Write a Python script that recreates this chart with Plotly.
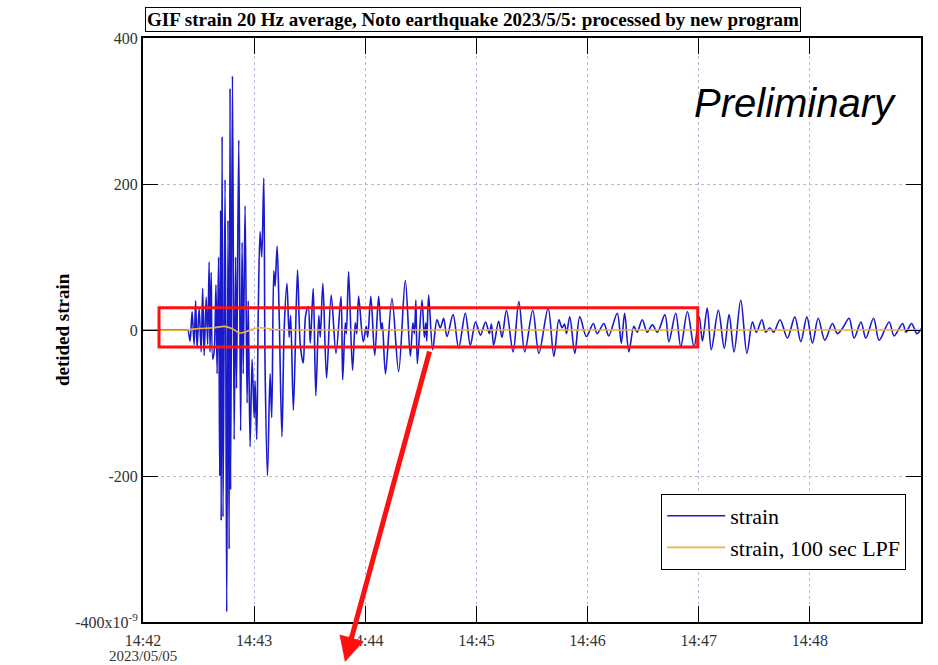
import pandas as pd
import plotly.graph_objects as go

# ---------------- data ----------------
# seconds after 2023-05-05 14:42:00, strain in 1e-9 (turning points of the trace)
t_sec = [0, 24.0, 24.3, 25.4, 26.5, 27.6, 28.4, 29.2, 30.3, 31.4, 32.2, 33.0, 34.1, 34.9,
         35.7, 36.2, 36.8, 37.6, 38.4, 39.4, 40.0, 40.8, 41.4, 41.9, 42.2, 42.7, 43.2,
         44.3, 45.2, 45.9, 46.5, 47.0, 47.3, 48.3, 49.2, 50.0, 50.5, 51.7, 52.7, 53.5,
         54.1, 55.1, 56.2, 56.8, 57.8, 58.9, 60.0, 60.5, 61.4, 62.2, 63.2, 64.1, 65.2,
         65.9, 67.2, 68.6, 69.5, 70.6, 71.3, 72.4, 73.5, 75.0, 76.2, 77.7, 78.9, 79.7,
         81.2, 83.4, 84.9, 86.5, 87.8, 89.2, 90.3, 91.9, 93.3, 94.9, 95.7, 97.1, 99.1,
         101.6, 104.2, 106.9, 107.8, 109.2, 109.8, 111.0, 113.1, 114.6, 115.4, 116.4,
         118.9, 120.5, 121.3, 123.0, 125.1, 127.2, 128.6, 129.2, 130.9, 134.4, 138.0,
         141.6, 144.3, 145.7, 146.5, 147.3, 148.1, 150.6, 151.9, 152.7, 153.2, 154.2,
         156.4, 158.7, 160.5, 162.3, 164.1, 167.4, 170.4, 174.0, 176.7, 179.5, 182.2,
         184.9, 187.0, 188.1, 189.3, 192.0, 193.8, 196.2, 199.8, 202.9, 206.1, 210.4,
         213.7, 218.7, 221.8, 224.5, 226.2, 227.6, 228.6, 230.4, 233.1, 235.8, 239.4,
         243.1, 245.2, 248.8, 251.4, 256.0, 258.2, 260.0, 262.3, 265.0, 266.8, 269.5,
         272.2, 275.0, 277.7, 281.8, 283.9, 287.6, 290.3, 293.9, 297.5, 300.3, 302.0,
         304.6, 306.8, 310.6, 313.8, 316.4, 319.1, 322.7, 326.0, 329.0, 331.1, 334.1,
         336.2, 338.4, 340.5, 343.9, 347.9, 351.9, 355.1, 358.4, 361.4, 364.5, 368.1,
         372.2, 374.9, 377.8, 381.2, 383.9, 387.6, 390.2, 394.4, 397.4, 402.8, 405.5,
         410.1, 411.9, 414.9, 417.8, 420.0]
strain = [0, 0, 0, -15, 25, -20, 40, -25, 30, -30, 57, -35, 45, -20,
          93, -30, 79, -40, -30, 62, -60, 100, -200, 164, -261, 265, -256,
          206, -386, 150, -300, 331, -219, 348, -150, 100, -80, 260, -138, 120,
          -60, 170, -100, 40, -160, -40, -120, -70, -150, 20, 135, 100, 208,
          -50, -200, -60, -120, 81, 60, 115, 22, -146, 0, 64, -10, 20,
          -110, 82, -20, -45, 20, 32, -18, 57, -90, 20, -10, 64, -66,
          48, -32, 46, -68, 10, -5, 80, -55, 10, -5, 46,
          -16, 5, -10, 46, -35, 46, 0, 10, -60, 43, -57,
          68, -36, 10, -5, 41, -46, 41, -10, 10, -15, 48,
          -27, 14, 3, 16, -9, 21, -25, 23, -21, 11, -7,
          11, -5, 8, -21, 12, -10, 27, -30, 39, -30, 27,
          -32, 30, -36, 14, 3, 8, -5, 18, -32, 18, -9,
          9, -5, 9, -8, 23, -18, 23, -30, 5, -3, 14,
          -3, 7, -3, 21, -16, 23, -23, 25, -23, 18, -15,
          30, -27, 27, -25, 21, -30, 41, -32, 11, -3, 14,
          -3, 3, -3, 14, -11, 18, -16, 18, -18, 16, -14,
          9, -5, 3, 16, -11, 11, -11, 16, -14, 11, -8,
          9, -3, 9, -5, 2]

lpf_sec = [0, 24, 30, 38, 44, 48, 52, 56, 60, 64, 70, 80, 420]
lpf = [0, 0, 2, 3, 5, 2, -4, -2, 2, 3, 1, 0, 0]

tick_times = ["14:42", "14:43", "14:44", "14:45", "14:46", "14:47", "14:48"]
date_label = "2023/05/05"
y_ticks = [-400, -200, 0, 200, 400]
y_tick_text = ["-400x10<sup>-9</sup>", "-200", "0", "200", "400"]

# ---------------- figure ----------------
t0 = pd.Timestamp("2023-05-05 14:42:00")
x_strain = [t0 + pd.Timedelta(seconds=s) for s in t_sec]
x_lpf = [t0 + pd.Timedelta(seconds=s) for s in lpf_sec]
x_ticks = [pd.Timestamp("2023-05-05 " + h + ":00") for h in tick_times]

SERIF = "Liberation Serif"

fig = go.Figure()
fig.add_trace(go.Scatter(x=x_strain, y=strain, mode="lines", name="strain",
                         line=dict(color="#1a1acc", width=1.6, shape="spline", smoothing=0.9)))
fig.add_trace(go.Scatter(x=x_lpf, y=lpf, mode="lines", name="strain, 100 sec LPF",
                         line=dict(color="#f0b43c", width=1.6, shape="spline", smoothing=0.8)))

grid = dict(showgrid=True, gridcolor="#babad8", griddash="dot", gridwidth=1)
fig.update_xaxes(type="date", range=[t0, t0 + pd.Timedelta(minutes=7)],
                 tickvals=x_ticks, ticktext=tick_times, automargin=False,
                 ticks="inside", ticklen=16, tickwidth=1.2, tickcolor="black",
                 showline=True, linecolor="black", linewidth=2, mirror="ticks",
                 zeroline=False, tickfont=dict(family=SERIF, size=16, color="#333"),
                 ticklabelstandoff=3,
                 **grid)
fig.update_yaxes(range=[-400, 400], tickvals=y_ticks, ticktext=y_tick_text, automargin=False,
                 ticks="inside", ticklen=15, tickwidth=1.2, tickcolor="black",
                 showline=True, linecolor="black", linewidth=2, mirror="ticks",
                 zeroline=False, tickfont=dict(family=SERIF, size=16, color="#333"),
                 **grid)

fig.update_layout(
    width=938, height=665,
    margin=dict(l=143, r=17, t=38, b=43),
    paper_bgcolor="white", plot_bgcolor="white",
    showlegend=True,
    legend=dict(x=0.981, y=0.089, xanchor="right", yanchor="bottom",
                bgcolor="white", bordercolor="black", borderwidth=1,
                font=dict(family=SERIF, size=22, color="black"),
                tracegroupgap=0, itemwidth=58),
    annotations=[
        dict(text="<b>GIF strain 20 Hz average, Noto earthquake 2023/5/5: processed by new program</b>",
             xref="paper", yref="paper", x=0.424, y=1.031, xanchor="center", yanchor="middle",
             showarrow=False, font=dict(family=SERIF, size=19, color="black"),
             bgcolor="white", bordercolor="black", borderwidth=1, borderpad=1),
        dict(text=date_label, xref="paper", yref="paper", x=0.0, y=-0.058,
             xanchor="center", yanchor="middle", showarrow=False,
             font=dict(family=SERIF, size=15, color="#333")),
        dict(text="<b>detided strain</b>", xref="paper", yref="paper", x=-0.104, y=0.5,
             xanchor="center", yanchor="middle", textangle=-90, showarrow=False,
             font=dict(family=SERIF, size=19, color="black")),
        dict(text="<i>Preliminary</i>", xref="paper", yref="paper", x=0.972, y=0.889,
             xanchor="right", yanchor="middle", showarrow=False,
             font=dict(family="Liberation Sans", size=40, color="black")),
        dict(text="", xref="paper", yref="paper", x=0.2596, y=-0.0685,
             showarrow=True, ax=85, ay=-312, arrowcolor="#ff1010", arrowwidth=5,
             arrowhead=2, arrowsize=1),
    ],
    shapes=[
        dict(type="rect", xref="paper", yref="paper", x0=0.0206, x1=0.713, y0=0.471, y1=0.538,
             line=dict(color="#ff1010", width=3)),
    ],
)

fig.write_html("out.html", config={"displayModeBar": False})
